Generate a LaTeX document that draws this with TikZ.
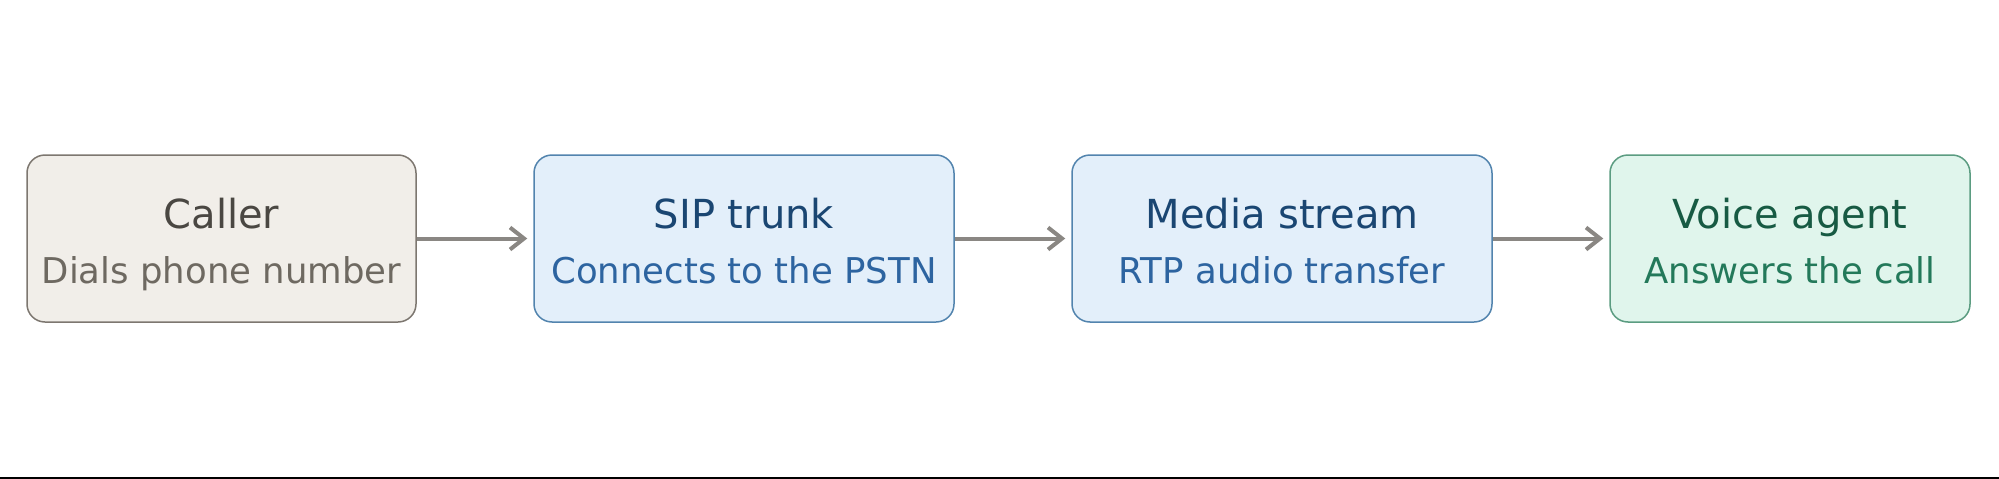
\documentclass[tikz,border=0pt]{standalone}
\usepackage{fontspec}
\setmainfont{DejaVu Sans}
\usetikzlibrary{arrows.meta}
\definecolor{cFill}{HTML}{F1EEE9}
\definecolor{cDraw}{HTML}{7D7770}
\definecolor{cTitle}{HTML}{4A4742}
\definecolor{cSub}{HTML}{6E6961}
\definecolor{bFill}{HTML}{E3EFFA}
\definecolor{bDraw}{HTML}{5284AE}
\definecolor{bTitle}{HTML}{1A4672}
\definecolor{bSub}{HTML}{2D64A0}
\definecolor{gFill}{HTML}{E0F5EC}
\definecolor{gDraw}{HTML}{5B9C81}
\definecolor{gTitle}{HTML}{175A43}
\definecolor{gSub}{HTML}{23795A}
\definecolor{arrowGray}{HTML}{8A8783}
\tikzset{
  box/.style={rounded corners=18pt, line width=1.5pt, minimum height=167pt, inner sep=0pt},
  ttl/.style={anchor=base, inner sep=0pt, font=\fontsize{40}{48}\selectfont},
  sub/.style={anchor=base, inner sep=0pt, font=\fontsize{35.5}{42}\selectfont},
  flow/.style={draw=arrowGray, line width=4pt, -{Straight Barb[length=14pt, width=22pt, line width=4pt]}, shorten >=6pt}
}
\begin{document}
\begin{tikzpicture}[x=1pt,y=-1pt]
\useasboundingbox (0,0) rectangle (1999,479);
\fill[white] (0,0) rectangle (1999,479);
\node[box, draw=cDraw, fill=cFill, minimum width=389pt] (caller) at (221.5,238.5) {};
\node[box, draw=bDraw, fill=bFill, minimum width=420pt] (sip) at (744,238.5) {};
\node[box, draw=bDraw, fill=bFill, minimum width=420pt] (media) at (1282,238.5) {};
\node[box, draw=gDraw, fill=gFill, minimum width=360pt] (voice) at (1790,238.5) {};
\node[ttl, text=cTitle] (callerT) at (221.5,228.5) {Caller};
\node[sub, text=cSub] (callerS) at (221.5,283) {Dials phone number};
\node[ttl, text=bTitle] (sipT) at (744,228.5) {SIP trunk};
\node[sub, text=bSub] (sipS) at (744,283) {Connects to the PSTN};
\node[ttl, text=bTitle] (mediaT) at (1282,228.5) {Media stream};
\node[sub, text=bSub] (mediaS) at (1282,283) {RTP audio transfer};
\node[ttl, text=gTitle] (voiceT) at (1790,228.5) {Voice agent};
\node[sub, text=gSub] (voiceS) at (1790,283) {Answers the call};
\draw[flow] (caller.east) -- (sip.west);
\draw[flow] (sip.east) -- (media.west);
\draw[flow] (media.east) -- (voice.west);
\coordinate (bl) at (0,478);
\coordinate (br) at (1999,478);
\draw[black, line width=3pt] (bl) -- (br);
\end{tikzpicture}
\end{document}
